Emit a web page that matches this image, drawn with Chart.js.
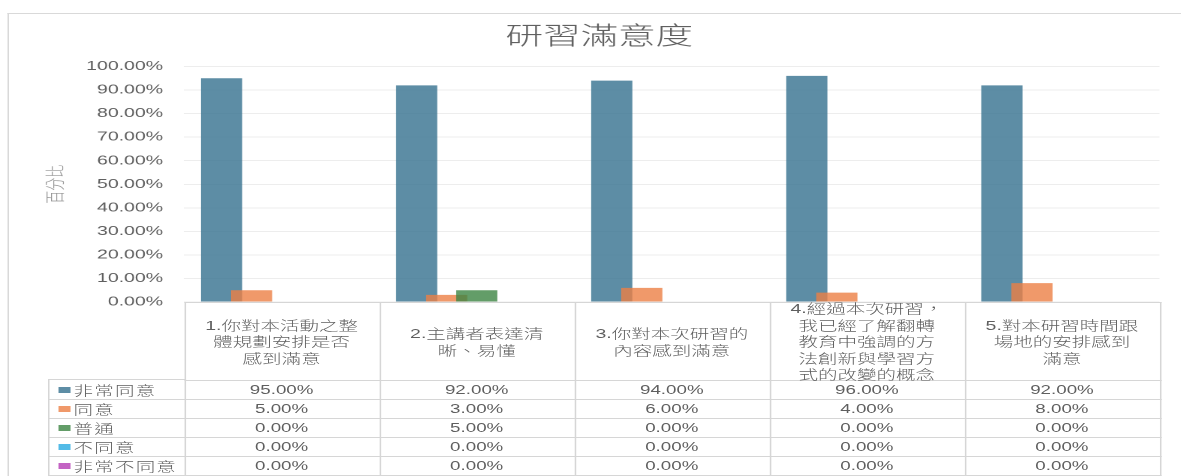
<!DOCTYPE html>
<html>
<head>
<meta charset="utf-8">
<script src="https://cdn.jsdelivr.net/npm/chart.js@4.4.0/dist/chart.umd.min.js"></script>
<style>
    html, body { margin: 0; padding: 0; background: #fff; overflow: hidden; }
    /* the reference is stretched sideways by 1.5, so draw narrow and stretch */
    #stage {
        position: absolute; left: 0; top: 0; width: 787px; height: 476px;
        transform: scaleX(1.5006); transform-origin: 0 0;
        font-family: "Liberation Sans", "Noto Sans CJK TC", sans-serif; color: #5f5f5f;
        font-weight: 300;
    }
    #frame {
        position: absolute; left: 5.4px; top: 13px; right: -20px; bottom: -20px;
        border-top: 1.5px solid #d9d9d9; border-left: 1.3px solid #d9d9d9;
    }
    #chart { position: absolute; left: 0; top: 0; }
    .cell {
        position: absolute; box-sizing: border-box; border: 0 solid #d6d6d6;
        display: flex; align-items: center; justify-content: center; text-align: center;
        white-space: nowrap;
    }
    .head { font-size: 13px; line-height: 16.4px; padding-top: 2px; }
    .val { font-size: 12.5px; }
    .key { justify-content: flex-start; font-size: 13px; padding-left: 5.8px; letter-spacing: 0.8px; }
    .key i { display: inline-block; width: 8px; height: 6px; margin-right: 2.2px; }
</style>
</head>
<body>
<div id="stage">
    <div id="frame"></div>
    <canvas id="chart" width="787" height="476"></canvas>
    <div id="table"></div>
</div>
<script>
const chartTitle = '研習滿意度';
const yAxisTitle = '百分比';
const categories = [
    ['1.你對本活動之整', '體規劃安排是否', '感到滿意'],
    ['2.主講者表達清', '晰、易懂'],
    ['3.你對本次研習的', '內容感到滿意'],
    ['4.經過本次研習，', '我已經了解翻轉', '教育中強調的方', '法創新與學習方', '式的改變的概念'],
    ['5.對本研習時間跟', '場地的安排感到', '滿意'],
];
const seriesNames = ['非常同意', '同意', '普通', '不同意', '非常不同意'];
const stronglyAgree = [95, 92, 94, 96, 92];
const agree = [5, 3, 6, 4, 8];
const neutral = [0, 5, 0, 0, 0];
const disagree = [0, 0, 0, 0, 0];
const stronglyDisagree = [0, 0, 0, 0, 0];
const seriesColors = [
    'rgba(52,112,142,0.8)',
    'rgba(236,127,69,0.8)',
    'rgba(60,133,66,0.8)',
    'rgba(40,170,225,0.8)',
    'rgba(180,60,180,0.8)',
];

const fontFamily = '"Liberation Sans", "Noto Sans CJK TC", sans-serif';
const seriesValues = [stronglyAgree, agree, neutral, disagree, stronglyDisagree];
const pct = (v) => v.toFixed(2) + '%';

// Excel draws later series over earlier ones; Chart.js does the reverse
const drawInOrder = {
    id: 'drawInOrder',
    beforeDatasetsDraw(chart) {
        chart.getSortedVisibleDatasetMetas().forEach((meta) => meta.controller.draw());
        return false;
    },
};

const chart = new Chart(document.getElementById('chart'), {
    type: 'bar',
    data: {
        labels: categories,
        datasets: seriesNames.map((name, i) => ({
            label: name,
            data: seriesValues[i],
            backgroundColor: seriesColors[i],
            borderWidth: 0,
            categoryPercentage: 0.77,
            barPercentage: 1.37,
        })),
    },
    options: {
        responsive: false,
        animation: false,
        devicePixelRatio: 2,
        layout: { padding: { left: 26, right: 14.3, top: 14, bottom: 174 } },
        plugins: {
            legend: { display: false },
            tooltip: { enabled: false },
            title: {
                display: true,
                text: chartTitle,
                color: '#606060',
                font: { family: fontFamily, size: 25, weight: 300 },
                padding: { top: 8.5, bottom: 14 },
            },
        },
        scales: {
            x: { display: false },
            y: {
                min: 0,
                max: 100,
                border: { display: false },
                grid: { color: '#ededed', drawTicks: false },
                ticks: {
                    stepSize: 10,
                    padding: 14,
                    color: '#606060',
                    font: { family: fontFamily, size: 13 },
                    callback: (v) => pct(v),
                },
                title: {
                    display: true,
                    text: yAxisTitle,
                    color: '#949494',
                    font: { family: fontFamily, size: 13, weight: 300 },
                    padding: { top: 4, bottom: 4 },
                },
                afterFit(scale) { scale.width = 96.7; },
            },
        },
    },
    plugins: [drawInOrder],
});

// data table under the plot, lined up with the category slots
function buildTable() {
    const area = chart.chartArea;
    const box = document.getElementById('table');
    const colW = (area.right - area.left) / categories.length;
    const keyLeft = 32;
    const headH = 78;
    const rowH = 19;
    const top = area.bottom;

    function cell(x, y, w, h, cls, html, sides) {
        const d = document.createElement('div');
        d.className = 'cell ' + cls;
        d.style.left = x + 'px';
        d.style.top = y + 'px';
        d.style.width = w + 'px';
        d.style.height = h + 'px';
        sides.forEach((s) => { d.style['border' + s + 'Width'] = '1px'; });
        d.innerHTML = html;
        box.appendChild(d);
    }

    cell(keyLeft, top, area.left - keyLeft + 1, headH, '', '', ['Right', 'Bottom']);
    categories.forEach((lines, c) => {
        const x = area.left + c * colW;
        cell(x, top, colW + 1, headH + 1, 'head', lines.join('<br>'), ['Top', 'Right', 'Bottom']);
    });
    seriesNames.forEach((name, r) => {
        const y = top + headH + r * rowH;
        cell(keyLeft, y, area.left - keyLeft + 1, rowH + 1, 'key',
            `<i style="background:${seriesColors[r]}"></i>${name}`, ['Left', 'Right', 'Bottom']);
        seriesValues[r].forEach((v, c) => {
            const x = area.left + c * colW;
            cell(x, y, colW + 1, rowH + 1, 'val', pct(v), ['Right', 'Bottom']);
        });
    });
}
buildTable();
</script>
</body>
</html>
